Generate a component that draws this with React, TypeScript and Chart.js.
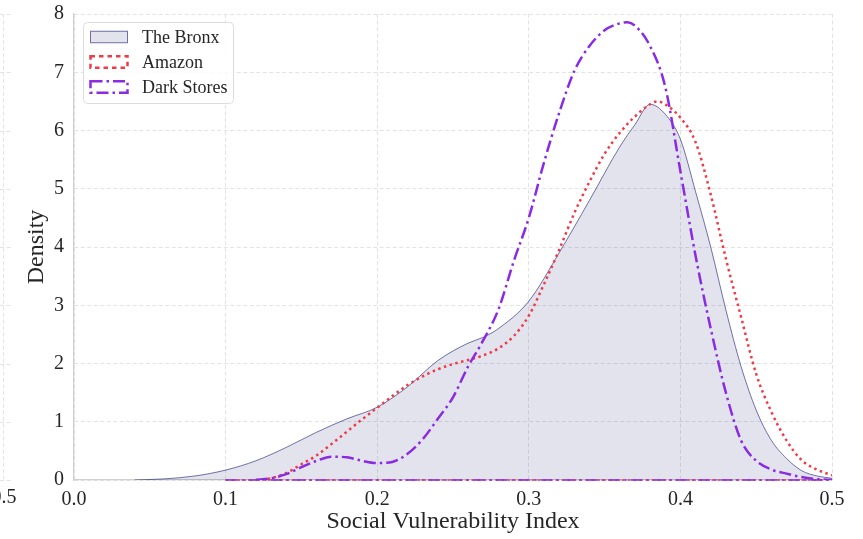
import React, { useEffect, useRef } from 'react';
import { Chart, registerables } from 'chart.js';

Chart.register(...registerables);

// ---- data ----
const seriesNames = ['The Bronx', 'Amazon', 'Dark Stores'];

const bronxX = [0.04, 0.06, 0.08, 0.10, 0.12, 0.14, 0.16, 0.18, 0.20, 0.22, 0.24, 0.26, 0.27, 0.28, 0.30, 0.32, 0.34, 0.36, 0.37, 0.38, 0.39, 0.40, 0.41, 0.42, 0.43, 0.44, 0.45, 0.46, 0.47, 0.48, 0.49, 0.50];
const bronxY = [0, 0.02, 0.07, 0.17, 0.33, 0.56, 0.82, 1.05, 1.25, 1.6, 2.05, 2.35, 2.45, 2.6, 3.07, 3.9, 4.8, 5.72, 6.1, 6.45, 6.28, 5.85, 4.95, 4.0, 2.92, 1.95, 1.2, 0.68, 0.37, 0.16, 0.07, 0.03];

const amazonX = [0.12, 0.13, 0.14, 0.15, 0.16, 0.17, 0.18, 0.19, 0.20, 0.21, 0.22, 0.23, 0.24, 0.25, 0.26, 0.27, 0.28, 0.29, 0.30, 0.31, 0.32, 0.33, 0.34, 0.35, 0.36, 0.37, 0.38, 0.385, 0.39, 0.40, 0.41, 0.42, 0.43, 0.44, 0.45, 0.46, 0.47, 0.48, 0.49, 0.50];
const amazonY = [0, 0.03, 0.12, 0.27, 0.42, 0.62, 0.83, 1.04, 1.24, 1.44, 1.63, 1.78, 1.9, 1.99, 2.06, 2.14, 2.26, 2.47, 2.82, 3.36, 3.95, 4.58, 5.12, 5.6, 5.96, 6.24, 6.45, 6.5, 6.45, 6.22, 5.8, 4.9, 3.8, 2.8, 1.82, 1.17, 0.68, 0.34, 0.18, 0.08];

const darkX = [0.12, 0.13, 0.14, 0.15, 0.16, 0.17, 0.18, 0.19, 0.20, 0.21, 0.22, 0.23, 0.24, 0.25, 0.26, 0.27, 0.28, 0.29, 0.30, 0.31, 0.32, 0.33, 0.34, 0.35, 0.36, 0.365, 0.37, 0.38, 0.39, 0.40, 0.41, 0.42, 0.43, 0.44, 0.45, 0.46, 0.47, 0.48, 0.49, 0.50];
const darkY = [0, 0.03, 0.1, 0.22, 0.33, 0.4, 0.39, 0.33, 0.29, 0.31, 0.45, 0.7, 1.05, 1.42, 1.95, 2.4, 2.93, 3.75, 4.5, 5.45, 6.3, 7.02, 7.45, 7.72, 7.84, 7.86, 7.8, 7.45, 6.75, 5.3, 3.85, 2.6, 1.5, 0.68, 0.33, 0.18, 0.11, 0.05, 0.015, 0];

const baselineX = [0.1, 0.5];
const baselineY = [0, 0];

const xTicks = [0, 0.1, 0.2, 0.3, 0.4, 0.5];
const xTickLabels = ['0.0', '0.1', '0.2', '0.3', '0.4', '0.5'];
const yTicks = [0, 1, 2, 3, 4, 5, 6, 7, 8];
const yTickLabels = ['0', '1', '2', '3', '4', '5', '6', '7', '8'];

const xTitle = 'Social Vulnerability Index';
const yTitle = 'Density';
const leftPanelTick = '0.5';

// ---- styles ----
const FONT = "'Liberation Serif', 'Times New Roman', serif";
const TEXT = '#262626';
const BRONX_FILL = 'rgba(25,25,112,0.12)';
const BRONX_LINE = 'rgba(25,25,112,0.6)';
const RED = '#f03a47';
const PURPLE = '#8a2be2';
const RED_DASH = [2.5, 3.5];
const PURPLE_DASH = [12, 4, 2.5, 4];
const GRID = '#e3e3e3';
const SPINE = '#cfcfcf';

const pts = (xs: number[], ys: number[]) => xs.map((x, i) => ({ x, y: ys[i] }));

const extrasPlugin = {
  id: 'extras',
  beforeDraw(chart: any) {
    // fragment of neighbouring panel at the left edge
    const ctx = chart.ctx;
    const ys = chart.scales.y;
    const area = chart.chartArea;
    ctx.save();
    ctx.strokeStyle = GRID;
    ctx.lineWidth = 1;
    ctx.setLineDash([4, 2.5]);
    ctx.beginPath();
    ctx.moveTo(3.5, area.top);
    ctx.lineTo(3.5, area.bottom);
    yTicks.forEach((v) => {
      const py = Math.round(ys.getPixelForValue(v)) + 0.5;
      ctx.moveTo(0, py);
      ctx.lineTo(11, py);
    });
    ctx.stroke();
    ctx.setLineDash([]);
    ctx.fillStyle = TEXT;
    ctx.font = `20px ${FONT}`;
    ctx.textAlign = 'center';
    ctx.textBaseline = 'top';
    ctx.fillText(leftPanelTick, 4, area.bottom + 8);
    ctx.restore();
  },
  afterDraw(chart: any) {
    const ctx = chart.ctx;
    ctx.save();
    const bx = 83.5, by = 22.5, bw = 150, bh = 81;
    ctx.beginPath();
    (ctx as any).roundRect(bx, by, bw, bh, 4);
    ctx.fillStyle = 'rgba(255,255,255,0.85)';
    ctx.fill();
    ctx.strokeStyle = '#dcdcdc';
    ctx.lineWidth = 1;
    ctx.stroke();

    const px = 90.5, pw = 37, ph = 11.5;
    const rows = [37, 62, 87];
    // Bronx patch
    ctx.fillStyle = BRONX_FILL;
    ctx.fillRect(px, rows[0] - ph / 2, pw, ph);
    ctx.strokeStyle = BRONX_LINE;
    ctx.lineWidth = 1;
    ctx.strokeRect(px, rows[0] - ph / 2, pw, ph);
    // Amazon patch
    ctx.strokeStyle = RED;
    ctx.lineWidth = 2.5;
    ctx.setLineDash([4.5, 4]);
    ctx.strokeRect(px, rows[1] - ph / 2, pw, ph);
    // Dark stores patch
    ctx.strokeStyle = PURPLE;
    ctx.setLineDash([12, 4, 2.5, 4]);
    ctx.strokeRect(px, rows[2] - ph / 2, pw, ph);
    ctx.setLineDash([]);

    ctx.fillStyle = TEXT;
    ctx.font = `18px ${FONT}`;
    ctx.textAlign = 'left';
    ctx.textBaseline = 'middle';
    seriesNames.forEach((n, i) => ctx.fillText(n, 142, rows[i] + 1));
    ctx.restore();
  },
};

export default function App() {
  const ref = useRef<HTMLCanvasElement | null>(null);
  useEffect(() => {
    if (!ref.current) return;
    const chart = new Chart(ref.current, {
      type: 'line',
      data: {
        datasets: [
          {
            label: seriesNames[2],
            data: pts(darkX, darkY),
            borderColor: PURPLE,
            borderWidth: 2.5,
            borderDash: PURPLE_DASH,
            pointRadius: 0,
            fill: false,
            cubicInterpolationMode: 'monotone',
            order: 1,
          },
          {
            label: seriesNames[1],
            data: pts(amazonX, amazonY),
            borderColor: RED,
            borderWidth: 2.5,
            borderDash: RED_DASH,
            pointRadius: 0,
            fill: false,
            cubicInterpolationMode: 'monotone',
            order: 2,
          },
          {
            label: 'base-red',
            data: pts(baselineX, baselineY),
            borderColor: RED,
            borderWidth: 1.5,
            borderDash: RED_DASH,
            pointRadius: 0,
            fill: false,
            clip: false,
            order: 2,
          },
          {
            label: 'base-purple',
            data: pts(baselineX, baselineY),
            borderColor: PURPLE,
            borderWidth: 1.5,
            borderDash: PURPLE_DASH,
            pointRadius: 0,
            fill: false,
            clip: false,
            order: 1,
          },
          {
            label: seriesNames[0],
            data: pts(bronxX, bronxY),
            borderColor: BRONX_LINE,
            backgroundColor: BRONX_FILL,
            borderWidth: 1,
            pointRadius: 0,
            fill: 'origin',
            cubicInterpolationMode: 'monotone',
            order: 3,
          },
        ],
      },
      options: {
        animation: false,
        responsive: true,
        maintainAspectRatio: false,
        layout: { padding: { top: 14, right: 31, left: 0, bottom: 0 } },
        plugins: { legend: { display: false }, tooltip: { enabled: false } },
        scales: {
          x: {
            type: 'linear',
            min: 0,
            max: 0.5,
            afterBuildTicks: (s: any) => {
              s.ticks = xTicks.map((v) => ({ value: v }));
            },
            afterFit: (s: any) => {
              s.height = 59;
              s.paddingLeft = 0;
              s.paddingRight = 0;
            },
            ticks: {
              autoSkip: false,
              maxRotation: 0,
              padding: 8,
              color: TEXT,
              font: { family: FONT, size: 20 },
              callback: (_v: any, i: number) => xTickLabels[i],
            },
            grid: { color: GRID, lineWidth: 1, drawTicks: false },
            border: { display: true, color: SPINE, width: 1.25, dash: [4, 2.5] },
            title: {
              display: true,
              text: xTitle,
              color: TEXT,
              font: { family: FONT, size: 24 },
              padding: { top: 0, bottom: 3 },
            },
          },
          y: {
            type: 'linear',
            min: 0,
            max: 8,
            afterBuildTicks: (s: any) => {
              s.ticks = yTicks.map((v) => ({ value: v }));
            },
            afterFit: (s: any) => {
              s.width = 74;
              s.paddingTop = 0;
              s.paddingBottom = 0;
            },
            ticks: {
              autoSkip: false,
              padding: 10,
              color: TEXT,
              font: { family: FONT, size: 20 },
              callback: (_v: any, i: number) => yTickLabels[i],
            },
            grid: { color: GRID, lineWidth: 1, drawTicks: false },
            border: { display: true, color: SPINE, width: 1.25, dash: [4, 2.5] },
            title: {
              display: true,
              text: yTitle,
              color: TEXT,
              font: { family: FONT, size: 24 },
              padding: { top: 22, bottom: 0 },
            },
          },
        },
      },
      plugins: [extrasPlugin],
    } as any);
    return () => chart.destroy();
  }, []);

  return (
    <div style={{ position: 'absolute', left: 0, top: 0, width: 863, height: 539, background: '#ffffff' }}>
      <canvas ref={ref} />
    </div>
  );
}
